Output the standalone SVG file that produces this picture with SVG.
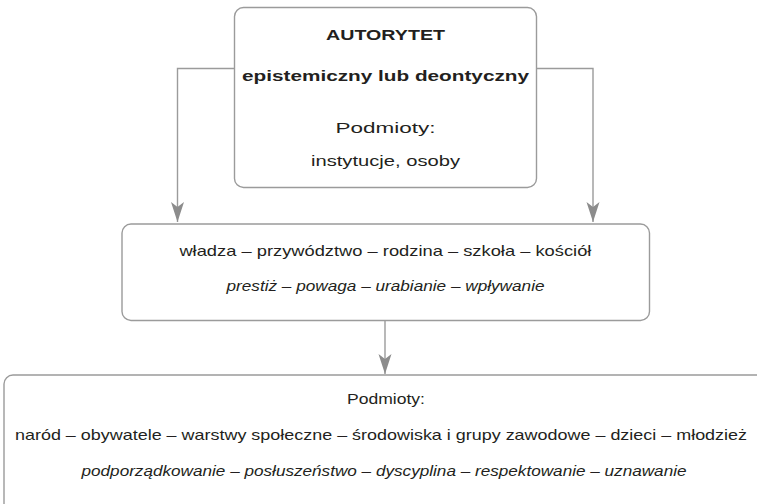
<svg xmlns="http://www.w3.org/2000/svg" width="757" height="504" viewBox="0 0 757 504">
<defs>
<marker id="arr" markerUnits="userSpaceOnUse" markerWidth="24" markerHeight="16" viewBox="-2 -8 24 16" refX="20" refY="0" orient="auto">
<path d="M0,-6.5 L20,0 L0,6.5 L5,0 Z" fill="#8c8c8c"/>
</marker>
<style>
.box{fill:#fff;stroke:#9b9b9b;stroke-width:1.4}
.con{fill:none;stroke:#9b9b9b;stroke-width:1.4}
text{font-family:"Liberation Sans",Arial,sans-serif;fill:#231f20;text-anchor:middle;font-size:15px}
.b{font-weight:bold}
.i{font-style:italic}
</style>
</defs>
<rect width="757" height="504" fill="#fff"/>
<g id="connectors">
<path class="con" d="M234.5,68.5 H177.5 V222" marker-end="url(#arr)"/>
<path class="con" d="M536.5,68.5 H593 V222" marker-end="url(#arr)"/>
<path class="con" d="M385,320.5 V374" marker-end="url(#arr)"/>
</g>
<g id="autorytet">
<rect class="box" x="234.5" y="7.5" width="302" height="180" rx="9"/>
<text class="b" x="385.5" y="40" font-size="19" textLength="119" lengthAdjust="spacingAndGlyphs">AUTORYTET</text>
<text class="b" x="385.5" y="81" font-size="19" textLength="287" lengthAdjust="spacingAndGlyphs">epistemiczny lub deontyczny</text>
<text x="385.5" y="133" font-size="17" textLength="100" lengthAdjust="spacingAndGlyphs">Podmioty:</text>
<text x="385.5" y="166" font-size="17" textLength="149" lengthAdjust="spacingAndGlyphs">instytucje, osoby</text>
</g>
<g id="srodki">
<rect class="box" x="122" y="224" width="527.5" height="96.5" rx="9"/>
<text x="385.4" y="256" font-size="16" textLength="412" lengthAdjust="spacingAndGlyphs">władza – przywództwo – rodzina – szkoła – kościół</text>
<text class="i" x="385.5" y="291" font-size="16" textLength="318" lengthAdjust="spacingAndGlyphs">prestiż – powaga – urabianie – wpływanie</text>
</g>
<g id="podmioty">
<rect class="box" x="4" y="375" width="780" height="150" rx="9"/>
<text x="386" y="404" font-size="16" textLength="78" lengthAdjust="spacingAndGlyphs">Podmioty:</text>
<text x="381" y="440" font-size="16" textLength="732" lengthAdjust="spacingAndGlyphs">naród – obywatele – warstwy społeczne – środowiska i grupy zawodowe – dzieci – młodzież</text>
<text class="i" x="384" y="476" font-size="16" textLength="605" lengthAdjust="spacingAndGlyphs">podporządkowanie – posłuszeństwo – dyscyplina – respektowanie – uznawanie</text>
</g>
</svg>
